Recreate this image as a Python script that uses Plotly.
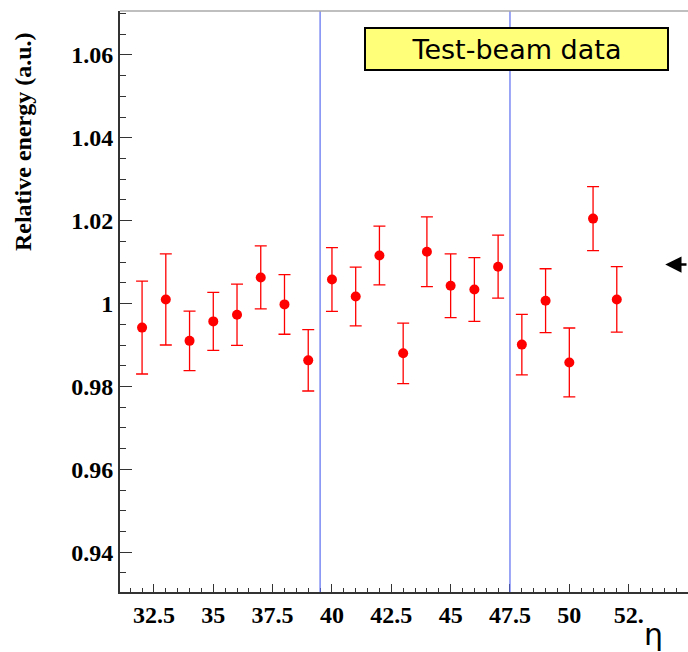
import plotly.graph_objects as go

# eta bins and relative energy
eta = list(range(32, 53))
energy = [0.9942, 1.0010, 0.9910, 0.9957, 0.9973, 1.0063, 0.9998, 0.9863, 1.0058, 1.0017,
          1.0116, 0.9880, 1.0125, 1.0043, 1.0034, 1.0089, 0.9901, 1.0007, 0.9858, 1.0205, 1.0010]
err = [0.0112, 0.0110, 0.0072, 0.0070, 0.0074, 0.0076, 0.0072, 0.0074, 0.0077, 0.0071,
       0.0071, 0.0073, 0.0084, 0.0077, 0.0077, 0.0076, 0.0073, 0.0077, 0.0083, 0.0077, 0.0079]
tick_vals = [32.5, 35, 37.5, 40, 42.5, 45, 47.5, 50, 52.5]
tick_text = ["32.5", "35", "37.5", "40", "42.5", "45", "47.5", "50", "52."]
y_ticks = [0.94, 0.96, 0.98, 1.0, 1.02, 1.04, 1.06]
y_text = ["0.94", "0.96", "0.98", "1", "1.02", "1.04", "1.06"]
boundaries = [39.5, 47.5]
arrow_level = 1.0094

fig = go.Figure()
fig.add_trace(go.Scatter(
    x=eta, y=energy, mode="markers",
    marker=dict(color="red", size=10),
    error_y=dict(type="data", array=err, color="red", thickness=1.3, width=6),
))

for b in boundaries:
    fig.add_vline(x=b, line=dict(color="#5a6cf0", width=1.2))

serif = dict(family="Liberation Serif", size=24, color="black", weight="bold")
fig.update_xaxes(range=[31.07, 55.0], tickvals=tick_vals, ticktext=tick_text,
                 ticks="inside", ticklen=8, tickcolor="#333", showline=True,
                 linecolor="#333", linewidth=2, showgrid=False, zeroline=False,
                 minor=dict(ticks="inside", ticklen=4, dtick=0.5, tickcolor="#333"),
                 tickfont=serif, automargin=False)
fig.update_yaxes(range=[0.9304, 1.0706], tickvals=y_ticks, ticktext=y_text,
                 ticks="inside", ticklen=12, tickcolor="#333", showline=True,
                 linecolor="#333", linewidth=2, showgrid=False, zeroline=False,
                 minor=dict(ticks="inside", ticklen=6, dtick=0.005, tickcolor="#333"),
                 tickfont=serif, automargin=False)

# y title sits high, ROOT style
fig.add_annotation(xref="paper", yref="paper", x=-0.172, y=0.775,
                   xanchor="center", yanchor="middle", textangle=-90,
                   text="Relative energy (a.u.)", showarrow=False,
                   font=dict(family="Liberation Serif", size=24, color="black", weight="bold"))

# top frame line
fig.add_shape(type="line", xref="paper", yref="paper", x0=0, x1=1, y0=1, y1=1,
              line=dict(color="#aaa", width=1.5))

fig.add_annotation(xref="paper", yref="paper", x=0.698, y=0.935,
                   xanchor="center", yanchor="middle",
                   text="Test-beam data", showarrow=False,
                   font=dict(family="DejaVu Sans", size=27, color="black"),
                   bgcolor="#ffff7a", bordercolor="black", borderwidth=2, borderpad=2,
                   width=297, height=36)
fig.add_annotation(xref="paper", yref="y", x=0.96, y=arrow_level, ax=30, ay=0,
                   text="", showarrow=True, arrowhead=2, arrowsize=1.3,
                   arrowwidth=2.5, arrowcolor="black")
fig.add_annotation(xref="paper", yref="paper", x=0.94, y=-0.074,
                   xanchor="center", yanchor="middle",
                   text="η", showarrow=False,
                   font=dict(family="DejaVu Sans", size=30, color="black"))

fig.update_layout(width=688, height=652, plot_bgcolor="white", paper_bgcolor="white",
                  showlegend=False, margin=dict(l=120, r=0, t=11, b=60))
fig.write_html("out.html", config={"displayModeBar": False},
               post_script="document.body.style.margin='0';")
